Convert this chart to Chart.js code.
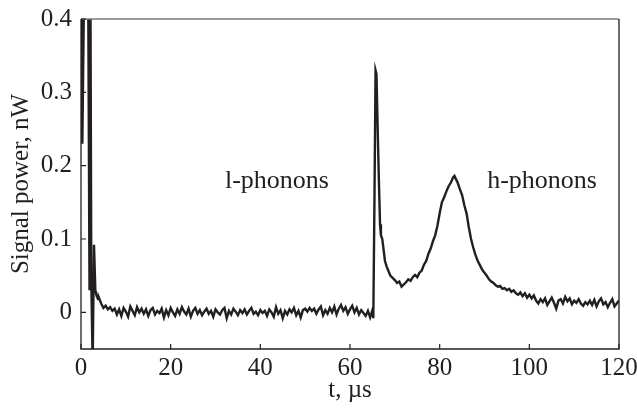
<!DOCTYPE html>
<html>
<head>
<meta charset="utf-8">
<script src="https://cdn.jsdelivr.net/npm/chart.js@4"></script>
<style>
  body { margin: 0; background: #fff; }
  #caixa { width: 637px; height: 409px; }
</style>
</head>
<body>
<div id="caixa"><canvas id="Canvas" width="637" height="409"></canvas></div>
<script>
// Dados do sinal (t em µs, potencia em nW)
let tempo = [
  0, 0.3, 0.7, 1.6, 1.9, 2.1, 2.3, 2.6, 2.9, 3.2, 3.5, 3.8,
  4, 4.5, 5, 5.5, 6, 6.5, 7, 7.5, 8, 8.5, 9, 9.5, 10, 10.5, 11, 11.5, 12, 12.5,
  13, 13.5, 14, 14.5, 15, 15.5, 16, 16.5, 17, 17.5, 18, 18.5, 19, 19.5, 20, 20.5,
  21, 21.5, 22, 22.5, 23, 23.5, 24, 24.5, 25, 25.5, 26, 26.5, 27, 27.5, 28, 28.5,
  29, 29.5, 30, 30.5, 31, 31.5, 32, 32.5, 33, 33.5, 34, 34.5, 35, 35.5, 36, 36.5,
  37, 37.5, 38, 38.5, 39, 39.5, 40, 40.5, 41, 41.5, 42, 42.5, 43, 43.5, 44, 44.5,
  45, 45.5, 46, 46.5, 47, 47.5, 48, 48.5, 49, 49.5, 50, 50.5, 51, 51.5, 52, 52.5,
  53, 53.5, 54, 54.5, 55, 55.5, 56, 56.5, 57, 57.5, 58, 58.5, 59, 59.5, 60, 60.5,
  61, 61.5, 62, 62.5, 63, 63.5, 64, 64.5, 65, 65.2, 65.45, 65.7, 65.9, 66.1, 66.4,
  66.7, 66.9, 67.2, 67.5, 67.8, 68.2, 68.6, 69, 69.5, 70, 70.5, 71, 71.5, 72, 72.5,
  73, 73.5, 74, 74.5, 75, 75.5, 76, 76.5, 77, 77.5, 78, 78.5, 79, 79.5, 80, 80.5,
  81, 81.5, 82, 82.5, 83, 83.3, 83.6, 84, 84.5, 85, 85.5, 86, 86.5, 87, 87.5, 88,
  88.5, 89, 89.5, 90, 90.5, 91, 91.5, 92, 92.5, 93, 93.5, 94, 94.5, 95, 95.5, 96,
  96.5, 97, 97.5, 98, 98.5, 99, 99.5, 100, 100.5, 101, 101.5, 102, 102.5, 103, 103.5,
  104, 104.5, 105, 105.5, 106, 106.5, 107, 107.5, 108, 108.5, 109, 109.5, 110, 110.5,
  111, 111.5, 112, 112.5, 113, 113.5, 114, 114.5, 115, 115.5, 116, 116.5, 117, 117.5,
  118, 118.5, 119, 119.5, 120
];

let sinal = [
  0.45, 0.23, 0.45, 0.45, 0.03, 0.45, 0.04, -0.07, 0.092, 0.03, 0.022, 0.018,
  0.02, 0.012, 0.006, 0.009, 0.004, 0.007, 0.002, 0.005, -0.003, 0.004, -0.005, 0.006, 0.001, -0.006, 0.008, 0.002, -0.004, 0.007,
  0.0, 0.005, -0.002, 0.004, -0.005, 0.003, 0.006, -0.003, 0.002, -0.001, 0.005, -0.007, 0.003, -0.004, 0.006, 0.0,
  -0.005, 0.004, -0.002, 0.007, 0.001, -0.003, 0.005, -0.006, 0.002, 0.006, -0.002, 0.003, -0.004, 0.001, 0.005, -0.002,
  0.002, -0.006, 0.004, 0.0, -0.003, 0.003, 0.006, -0.008, 0.002, -0.003, 0.005, 0.001, -0.004, 0.003, -0.001, 0.004,
  -0.003, 0.002, 0.006, -0.002, 0.001, -0.004, 0.003, -0.001, 0.002, -0.005, 0.004, 0.0, -0.006, 0.007, -0.002, 0.003,
  -0.008, 0.002, -0.003, 0.004, 0.0, 0.006, -0.004, 0.002, -0.007, 0.003, 0.005, 0.001, 0.006, 0.002, 0.005, -0.002,
  0.004, 0.008, -0.004, 0.003, -0.002, 0.006, 0.0, 0.008, -0.003, 0.005, 0.01, 0.002, 0.007, -0.002, 0.004, 0.009,
  0.0, 0.006, -0.003, 0.003, -0.001, -0.005, 0.002, -0.007, 0.003, -0.008, 0.15, 0.33, 0.325, 0.27, 0.19,
  0.12, 0.105, 0.1, 0.085, 0.07, 0.062, 0.056, 0.05, 0.047, 0.044, 0.04, 0.042, 0.035, 0.038, 0.041,
  0.045, 0.043, 0.048, 0.051, 0.048, 0.054, 0.057, 0.065, 0.07, 0.08, 0.087, 0.097, 0.105, 0.118, 0.135, 0.15,
  0.157, 0.165, 0.172, 0.177, 0.184, 0.186, 0.182, 0.177, 0.168, 0.16, 0.146, 0.135, 0.116, 0.1, 0.088, 0.078,
  0.07, 0.064, 0.058, 0.054, 0.05, 0.045, 0.042, 0.04, 0.037, 0.035, 0.036, 0.032, 0.033, 0.03, 0.032, 0.028,
  0.03, 0.026, 0.024, 0.027, 0.022, 0.026, 0.02, 0.024, 0.019, 0.023, 0.016, 0.012, 0.018, 0.014, 0.019,
  0.01, 0.015, 0.02, 0.013, 0.005, 0.016, 0.018, 0.012, 0.021, 0.015, 0.019, 0.011, 0.016, 0.013,
  0.018, 0.012, 0.009, 0.014, 0.011, 0.016, 0.01, 0.017, 0.008, 0.015, 0.019, 0.011, 0.014, 0.007,
  0.013, 0.018, 0.008, 0.012, 0.016
];

let ticksX = [0, 20, 40, 60, 80, 100, 120];
let ticksY = [0, 0.1, 0.2, 0.3, 0.4];

let rotulos = [
  { texto: "l-phonons", t: 32.1, v: 0.169 },
  { texto: "h-phonons", t: 90.6, v: 0.169 }
];

let corTexto = "#231f20";
let fonteSerif = "'Liberation Serif', 'Times New Roman', serif";

let pontos = tempo.map(function (t, i) {
  return { x: t, y: sinal[i] };
});

// moldura, ticks para dentro e os rotulos no meio do grafico
let pluginMoldura = {
  id: "moldura",
  afterDraw: function (chart) {
    let ctx = chart.ctx;
    let area = chart.chartArea;
    let sx = chart.scales.x;
    let sy = chart.scales.y;

    ctx.save();
    ctx.lineWidth = 1.3;
    ctx.strokeStyle = "#7a7a7a";
    ctx.beginPath();
    ctx.moveTo(area.left, area.top);
    ctx.lineTo(area.right, area.top);
    ctx.stroke();

    ctx.strokeStyle = corTexto;
    ctx.beginPath();
    ctx.moveTo(area.left, area.top);
    ctx.lineTo(area.left, area.bottom);
    ctx.lineTo(area.right, area.bottom);
    ctx.lineTo(area.right, area.top);
    ctx.stroke();

    ctx.lineWidth = 1.2;
    ctx.beginPath();
    ticksX.forEach(function (v) {
      let px = sx.getPixelForValue(v);
      ctx.moveTo(px, area.bottom);
      ctx.lineTo(px, area.bottom - 5);
    });
    ticksY.forEach(function (v) {
      let py = sy.getPixelForValue(v);
      ctx.moveTo(area.left, py);
      ctx.lineTo(area.left + 5, py);
    });
    ctx.stroke();

    ctx.fillStyle = corTexto;
    ctx.font = "26px " + fonteSerif;
    ctx.textAlign = "left";
    ctx.textBaseline = "alphabetic";
    rotulos.forEach(function (r) {
      ctx.fillText(r.texto, sx.getPixelForValue(r.t), sy.getPixelForValue(r.v));
    });
    ctx.restore();
  }
};

function criarGrafico() {
  let ctx = document.getElementById("Canvas").getContext("2d");

  new Chart(ctx, {
    type: "line",
    data: {
      datasets: [{
        data: pontos,
        borderColor: corTexto,
        borderWidth: 2.4,
        pointRadius: 0,
        tension: 0,
        fill: false
      }]
    },
    options: {
      responsive: false,
      animation: false,
      layout: { padding: { top: 19, right: 18, left: 0, bottom: 0 } },
      plugins: {
        legend: { display: false },
        tooltip: { enabled: false }
      },
      scales: {
        x: {
          type: "linear",
          min: 0,
          max: 120,
          grid: { display: false, drawTicks: false },
          border: { display: false },
          afterBuildTicks: function (scale) {
            scale.ticks = ticksX.map(function (v) { return { value: v }; });
          },
          afterFit: function (scale) {
            scale.height = 60;
            scale.paddingLeft = 0;
            scale.paddingRight = 0;
          },
          ticks: {
            color: corTexto,
            padding: 4,
            maxRotation: 0,
            font: { family: fonteSerif, size: 25 },
            callback: function (v) { return String(v); }
          },
          title: {
            display: true,
            text: "t, µs",
            color: corTexto,
            padding: { top: 0, bottom: 4 },
            font: { family: fonteSerif, size: 25 }
          }
        },
        y: {
          min: -0.05,
          max: 0.4,
          grid: { display: false, drawTicks: false },
          border: { display: false },
          afterBuildTicks: function (scale) {
            scale.ticks = ticksY.map(function (v) { return { value: v }; });
          },
          afterFit: function (scale) {
            scale.width = 81;
            scale.paddingTop = 0;
            scale.paddingBottom = 0;
          },
          ticks: {
            color: corTexto,
            padding: 9,
            font: { family: fonteSerif, size: 25 },
            callback: function (v) { return String(Math.round(v * 10) / 10); }
          },
          title: {
            display: true,
            text: "Signal power, nW",
            color: corTexto,
            padding: { top: 6, bottom: 0 },
            font: { family: fonteSerif, size: 25 }
          }
        }
      }
    },
    plugins: [pluginMoldura]
  });
}

criarGrafico();
</script>
</body>
</html>
